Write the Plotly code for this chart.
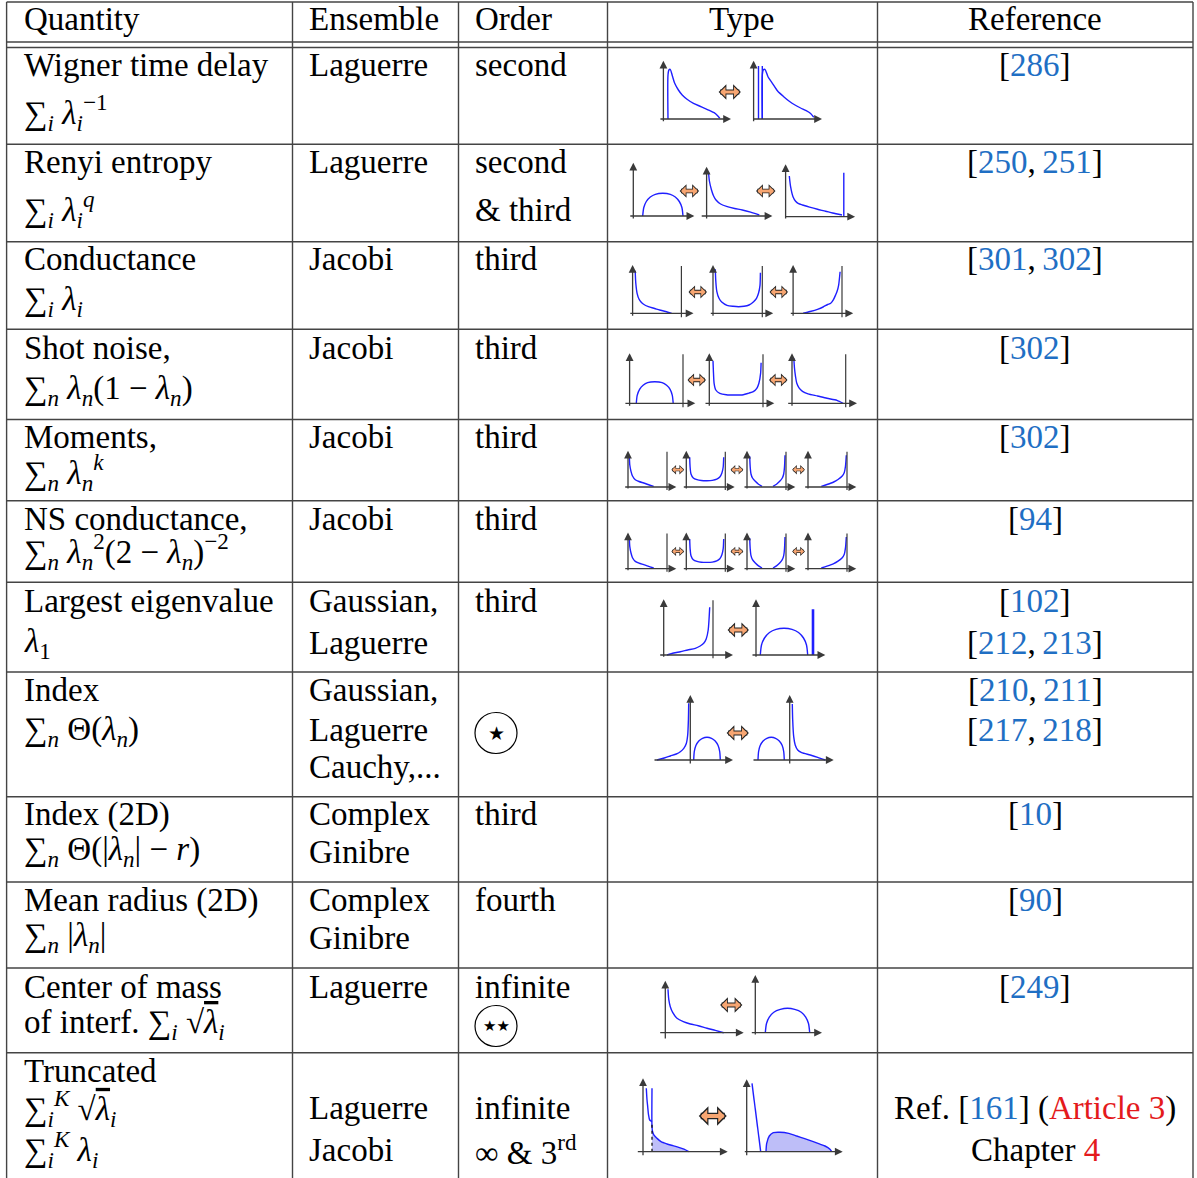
import plotly.graph_objects as go

W, H = 1197, 1178
FONT = "Liberation Serif"
TEXT_SIZE = 33
CITE_BLUE = "#1f6fc4"
LINK_RED = "#e41a1c"
CURVE_BLUE = "#1f1fff"
FILL_BLUE = "rgba(70, 70, 235, 0.35)"
AXIS_COLOR = "#3a3a3a"
GRID_COLOR = "#444444"
ARROW_ORANGE = "#f7a672"
OVER = "<span style='text-decoration:overline'>"

# ---------------------------------------------------------------- table text
HEADERS = ["Quantity", "Ensemble", "Order", "Type", "Reference"]

QUANTITY_LINES = [
    "Wigner time delay",
    "∑<sub><i>i</i></sub> <i>λ</i><sub><i>i</i></sub><sup>−1</sup>",
    "Renyi entropy",
    "∑<sub><i>i</i></sub> <i>λ</i><sub><i>i</i></sub><sup><i>q</i></sup>",
    "Conductance",
    "∑<sub><i>i</i></sub> <i>λ</i><sub><i>i</i></sub>",
    "Shot noise,",
    "∑<sub><i>n</i></sub> <i>λ</i><sub><i>n</i></sub>(1 − <i>λ</i><sub><i>n</i></sub>)",
    "Moments,",
    "∑<sub><i>n</i></sub> <i>λ</i><sub><i>n</i></sub><sup><i>k</i></sup>",
    "NS conductance,",
    "∑<sub><i>n</i></sub> <i>λ</i><sub><i>n</i></sub><sup>2</sup>(2 − <i>λ</i><sub><i>n</i></sub>)<sup>−2</sup>",
    "Largest eigenvalue",
    "<i>λ</i><sub>1</sub>",
    "Index",
    "∑<sub><i>n</i></sub> Θ(<i>λ</i><sub><i>n</i></sub>)",
    "Index (2D)",
    "∑<sub><i>n</i></sub> Θ(|<i>λ</i><sub><i>n</i></sub>| − <i>r</i>)",
    "Mean radius (2D)",
    "∑<sub><i>n</i></sub> |<i>λ</i><sub><i>n</i></sub>|",
    "Center of mass",
    f"of interf. ∑<sub><i>i</i></sub> √{OVER}<i>λ</i></span><sub><i>i</i></sub>",
    "Truncated",
    f"∑<sub><i>i</i></sub><sup><i>K</i></sup> √{OVER}<i>λ</i></span><sub><i>i</i></sub>",
    "∑<sub><i>i</i></sub><sup><i>K</i></sup> <i>λ</i><sub><i>i</i></sub>",
]
QUANTITY_Y = [65, 113, 162, 209, 259, 301, 348, 390, 437, 473, 519, 551,
              601, 643, 690, 731, 814, 851, 900, 937, 987, 1024, 1071, 1108, 1149]

ENSEMBLE_LINES = ["Laguerre", "Laguerre", "Jacobi", "Jacobi", "Jacobi", "Jacobi",
                  "Gaussian,", "Laguerre", "Gaussian,", "Laguerre", "Cauchy,...",
                  "Complex", "Ginibre", "Complex", "Ginibre", "Laguerre",
                  "Laguerre", "Jacobi"]
ENSEMBLE_Y = [65, 162, 259, 348, 437, 519, 601, 643, 690, 730, 767,
              814, 852, 900, 938, 987, 1108, 1150]

ORDER_LINES = ["second", "second", "&amp; third", "third", "third", "third", "third",
               "third", "third", "fourth", "infinite", "infinite",
               "∞ &amp; 3<sup>rd</sup>"]
ORDER_Y = [65, 162, 210, 259, 348, 437, 519, 601, 814, 900, 987, 1108, 1150]

ORDER_MARKS = ["★", "★★"]
ORDER_MARKS_Y = [733, 1026]

REF_CITES = [["286"], ["250", "251"], ["301", "302"], ["302"], ["302"], ["94"],
             ["102"], ["212", "213"], ["210", "211"], ["217", "218"], ["10"],
             ["90"], ["249"]]
REF_Y = [65, 162, 259, 348, 437, 519, 601, 643, 690, 730, 814, 900, 987]
LAST_REF_CITE = "161"
LAST_REF_ARTICLE = "Article 3"
LAST_REF_CHAPTER = "4"

# ------------------------------------------------- mini density sketches
# every sketch uses its own axes, one unit = one pixel, origin at the axes corner
WIG_A_X = [4.6, 4.6, 5.5, 6.8, 9.0, 11.3, 15.0, 18.8, 24.0, 30.1, 36.0, 41.3, 46.0, 50.7, 54.0, 56.4]
WIG_A_Y = [0, 44, 49, 49.7, 43, 35.7, 29, 24, 19.5, 15.7, 13, 10.7, 8.6, 6.3, 3.5, 0.7]
WIG_B_X = [8.7, 8.7, 9.6, 11.3, 14.5, 18.8, 24.0, 30.1, 36.0, 41.4, 47.0, 52.6, 57.0, 60.2]
WIG_B_Y = [0, 44, 49, 49.7, 42, 35.7, 28, 22.3, 17.5, 14, 11, 8.3, 5.5, 1.7]
WIG_B_SPIKE_X = [4.9, 8.7]
WIG_B_SPIKE_H = [53, 53]

REN_A_X = [9.4, 10.5, 13.0, 17.0, 22.0, 29.5, 37.0, 42.0, 46.0, 48.6, 49.7]
REN_A_Y = [0, 8.5, 14.5, 19, 21.7, 22.7, 21.7, 19, 14.5, 8.5, 0]
REN_B_X = [1.9, 2.8, 4.9, 7.0, 9.4, 14.0, 20.7, 28.0, 35.7, 44.0, 52.7]
REN_B_Y = [44.3, 35, 26, 20, 16, 12, 9.3, 7.5, 6, 3.8, 1]
REN_C_X = [3.7, 5.0, 7.4, 10.0, 13.0, 16.9, 24.0, 31.9, 40.0, 47.0, 56.4]
REN_C_Y = [40.7, 30, 20, 15.5, 13, 11.7, 9.5, 7.4, 5.5, 3.7, 1.7]
REN_C_SPIKE_X = [58.2]
REN_C_SPIKE_H = [44]

COND_A_X = [2.6, 3.2, 4.5, 6.5, 8.2, 11.0, 15.8, 22.0, 27.0, 33.0, 39.1]
COND_A_Y = [42.6, 30, 20, 14, 11.6, 9, 6.6, 4.8, 3.3, 1.8, 0]
COND_B_X = [2.3, 2.8, 3.8, 6.0, 8.7, 14.0, 20.0, 25.6, 31.0, 36.0, 40.6, 43.5, 45.5, 47.0, 47.4]
COND_B_Y = [44, 32, 22, 15, 11.3, 8, 7, 6.6, 7, 8.3, 11.6, 15, 20, 28, 40.6]
COND_C_X = [10.1, 17.0, 24.4, 30.0, 34.5, 37.6, 40.5, 42.5, 44.0, 45.5, 47.0]
COND_C_Y = [0, 1.8, 4, 6.3, 8.8, 10, 14, 18.3, 22, 28, 41.6]

SHOT_A_X = [6.7, 7.6, 10.0, 13.5, 18.0, 25.2, 32.5, 37.0, 40.5, 42.7, 43.6]
SHOT_A_Y = [0, 8, 14, 18, 20.7, 21.6, 20.7, 18, 14, 8, 0]
SHOT_B_X = [3.7, 4.2, 4.8, 6.5, 10.5, 17.0, 25.5, 34.0, 39.5, 44.0, 47.5, 49.6, 51.3, 51.8]
SHOT_B_Y = [42.6, 30, 20, 13.3, 10, 8.6, 8.3, 8.6, 10.2, 11.6, 15, 20, 30, 40.6]
SHOT_C_X = [1.8, 2.5, 3.5, 4.8, 7.0, 10.5, 16.0, 25.5, 35.0, 45.0, 51.1]
SHOT_C_Y = [45, 35, 27, 20, 15.5, 12, 9.5, 7.3, 5, 3, 0]

MOM_A_X = [1.3, 1.8, 3.0, 4.5, 7.3, 11.0, 15.7, 20.0, 25.7]
MOM_A_Y = [31.7, 22, 15.7, 11, 7.3, 5.5, 4, 2.5, 0.7]
MOM_B_X = [3.4, 3.8, 4.7, 7.0, 10.7, 15.0, 20.7, 26.0, 30.5, 33.5, 35.6, 36.9, 37.4]
MOM_B_Y = [29.7, 20, 13, 9, 7.3, 6.5, 6.3, 6.6, 7.8, 10, 14, 20, 29.7]
MOM_C_LEFT_X = [2.7, 3.2, 4.0, 5.5, 8.3, 11.5, 15.0]
MOM_C_LEFT_Y = [30.7, 20, 13, 9, 5.7, 2.8, 0.7]
MOM_C_RIGHT_X = [26.0, 29.5, 32.7, 35.3, 36.7, 37.5, 38.0]
MOM_C_RIGHT_Y = [0.7, 2.8, 5.7, 9, 13, 20, 31.7]
MOM_D_X = [13.3, 19.0, 25.7, 30.0, 34.0, 36.3, 37.5, 38.3]
MOM_D_Y = [0.7, 2.5, 5, 7.5, 10.7, 14.5, 21, 31.7]

LARGEST_A_X = [3.3, 10.0, 16.6, 24.0, 31.6, 36.5, 40.0, 42.5, 44.5, 46.0]
LARGEST_A_Y = [0, 2, 3.3, 5, 6.7, 9, 11.7, 16, 25, 47.7]
LARGEST_B_X = [4.3, 5.5, 8.5, 13.5, 20.0, 28.0, 36.0, 42.5, 47.5, 50.5, 51.7]
LARGEST_B_Y = [0, 10, 17, 22.5, 25.6, 26.7, 25.6, 22.5, 17, 10, 0]
LARGEST_B_SPIKE_X = [57.0]
LARGEST_B_SPIKE_H = [45.7]

INDEX_A_TAIL_X = [-33.3, -26.0, -20.0, -14.0, -10.0, -6.5, -4.0, -2.6, -1.9, -1.6]
INDEX_A_TAIL_Y = [0, 2, 4, 6, 8.3, 11.7, 16.5, 25, 40, 56.7]
INDEX_A_DOME_X = [3.4, 4.0, 5.6, 8.5, 12.2, 16.7, 21.2, 24.9, 27.8, 29.4, 30.0]
INDEX_A_DOME_Y = [0, 8.5, 14.5, 19, 21.7, 22.7, 21.7, 19, 14.5, 8.5, 0]
INDEX_B_DOME_X = [-31.7, -31.1, -29.5, -26.6, -22.9, -18.5, -14.1, -10.4, -7.5, -6.0, -5.4]
INDEX_B_DOME_Y = [0, 8.5, 14.5, 19, 21.7, 22.7, 21.7, 19, 14.5, 8.5, 0]
INDEX_B_TAIL_X = [2.6, 3.0, 4.0, 5.5, 8.0, 12.0, 20.6, 28.0, 35.6]
INDEX_B_TAIL_Y = [56, 40, 23.3, 15, 10, 7.3, 5, 2.7, 0]

COM_A_X = [2.7, 3.5, 5.0, 7.5, 11.7, 18.0, 25.0, 33.0, 41.7, 50.0, 58.4]
COM_A_Y = [43.4, 33, 26, 20, 14.4, 11, 8.7, 7, 4.4, 2.3, 0]
COM_B_X = [10.0, 11.2, 14.0, 18.5, 25.0, 32.2, 39.4, 46.0, 50.4, 53.2, 54.4]
COM_B_Y = [0, 9.2, 15.6, 20.5, 23.3, 24.4, 23.3, 20.5, 15.6, 9.2, 0]

TRUNC_A_LEFT_X = [3.3, 4.0, 4.7, 5.5, 6.7, 9.0]
TRUNC_A_LEFT_Y = [63.4, 52, 45, 37, 31.7, 30]
TRUNC_A_RIGHT_X = [9.0, 9.0, 9.6, 11.0, 14.0, 18.0, 24.0, 30.0, 35.7, 41.0, 45.7]
TRUNC_A_RIGHT_Y = [63.4, 25, 20, 16.5, 13.4, 10, 7.7, 6, 4.4, 2.5, 0]
TRUNC_A_CUT_X = [9.0]
TRUNC_A_CUT_H = [30]
TRUNC_B_LINE_X = [5.3, 14.0]
TRUNC_B_LINE_Y = [68.4, 0]
TRUNC_B_HUMP_X = [19.3, 20.0, 22.6, 26.6, 33.3, 42.0, 50.0, 58.0, 66.6, 72.0, 78.3, 83.3, 85.0]
TRUNC_B_HUMP_Y = [0, 8.4, 15.7, 19, 19.4, 18.3, 15.7, 13, 10, 8, 5.7, 2.4, 0]

# sketch placement: axes corner in page pixels, axis extents left/right/below/above
PANELS = [
    dict(origin=(663.4, 119), extent=(4.5, 67.6, 3.7, 58.3), curves=[(WIG_A_X, WIG_A_Y)]),
    dict(origin=(753.6, 119), extent=(2, 68.4, 3.7, 58.3), curves=[(WIG_B_X, WIG_B_Y)],
         spikes=(WIG_B_SPIKE_X, WIG_B_SPIKE_H)),
    dict(origin=(633.3, 216), extent=(4.5, 61, 4, 53.3), curves=[(REN_A_X, REN_A_Y)]),
    dict(origin=(706.6, 216), extent=(6.4, 65.8, 4, 49.3), curves=[(REN_B_X, REN_B_Y)]),
    dict(origin=(785.6, 216.7), extent=(2, 69.5, 3.3, 52.4), curves=[(REN_C_X, REN_C_Y)],
         spikes=(REN_C_SPIKE_X, REN_C_SPIKE_H)),
    dict(origin=(632.6, 313.3), extent=(3.8, 60.9, 4, 48.3), walls=[48.8], curves=[(COND_A_X, COND_A_Y)]),
    dict(origin=(713, 313.3), extent=(3.7, 60.2, 4, 48.3), walls=[49.3], curves=[(COND_B_X, COND_B_Y)]),
    dict(origin=(793.1, 313.3), extent=(3.8, 60.1, 4, 48.3), walls=[48.9], curves=[(COND_C_X, COND_C_Y)]),
    dict(origin=(629.6, 403.3), extent=(5.7, 65.7, 4, 50), walls=[53.4], curves=[(SHOT_A_X, SHOT_A_Y)]),
    dict(origin=(709.3, 403.3), extent=(5.3, 65, 4, 50), walls=[53.7], curves=[(SHOT_B_X, SHOT_B_Y)]),
    dict(origin=(792, 403.3), extent=(5.3, 65, 4, 50), walls=[53.7], curves=[(SHOT_C_X, SHOT_C_Y)]),
]
for row_y in (487, 568.7):
    PANELS += [
        dict(origin=(628, row_y), extent=(4.3, 48.3, 3, 36.3), walls=[39], curves=[(MOM_A_X, MOM_A_Y)]),
        dict(origin=(686.3, row_y), extent=(4, 48.4, 3, 36.3), walls=[39], curves=[(MOM_B_X, MOM_B_Y)]),
        dict(origin=(747, row_y), extent=(4, 48.3, 3, 36.3), walls=[39],
             curves=[(MOM_C_LEFT_X, MOM_C_LEFT_Y), (MOM_C_RIGHT_X, MOM_C_RIGHT_Y)]),
        dict(origin=(808, row_y), extent=(4.3, 48.3, 3, 36.3), walls=[39], curves=[(MOM_D_X, MOM_D_Y)]),
    ]
PANELS += [
    dict(origin=(663.7, 655), extent=(5, 69.3, 3.3, 55.7), walls=[49.3], curves=[(LARGEST_A_X, LARGEST_A_Y)]),
    dict(origin=(756, 655), extent=(5, 69.3, 3.3, 55.7), curves=[(LARGEST_B_X, LARGEST_B_Y)],
         spikes=(LARGEST_B_SPIKE_X, LARGEST_B_SPIKE_H), spike_width=2.6),
    dict(origin=(690.3, 760), extent=(37.3, 42.7, 5, 65),
         curves=[(INDEX_A_TAIL_X, INDEX_A_TAIL_Y), (INDEX_A_DOME_X, INDEX_A_DOME_Y)]),
    dict(origin=(789.7, 760), extent=(37.7, 44, 5, 65),
         curves=[(INDEX_B_DOME_X, INDEX_B_DOME_Y), (INDEX_B_TAIL_X, INDEX_B_TAIL_Y)]),
    dict(origin=(665.3, 1032.7), extent=(6.6, 78.4, 7.3, 52), curves=[(COM_A_X, COM_A_Y)]),
    dict(origin=(755.3, 1032.7), extent=(5, 66.7, 3.3, 57.7), curves=[(COM_B_X, COM_B_Y)]),
    dict(origin=(643, 1151.7), extent=(6.7, 84.7, 5, 73.4), curves=[(TRUNC_A_LEFT_X, TRUNC_A_LEFT_Y)],
         fills=[(TRUNC_A_RIGHT_X, TRUNC_A_RIGHT_Y)], cuts=(TRUNC_A_CUT_X, TRUNC_A_CUT_H)),
    dict(origin=(746.7, 1151.7), extent=(3.4, 96, 5, 72.4), curves=[(TRUNC_B_LINE_X, TRUNC_B_LINE_Y)],
         fills=[(TRUNC_B_HUMP_X, TRUNC_B_HUMP_Y)]),
]

# orange "<=>" between sketches: centre x, centre y, length (pixels)
SWAP_ARROWS = [
    (729, 92, 25), (688.6, 191, 22), (765, 191, 22),
    (697, 292, 21), (778, 292, 21), (696, 380, 21), (777.5, 380, 21),
    (677, 469.7, 15), (736.2, 469.7, 15), (797.8, 469.7, 15),
    (677, 551.4, 15), (736.2, 551.4, 15), (797.8, 551.4, 15),
    (737.5, 630, 24), (737, 733, 25), (730.5, 1005, 25), (712, 1116, 31),
]

COL_X = [6.6, 292.5, 458.5, 607.5, 877.5, 1193]
ROW_LINES_Y = [2, 42, 47.5, 144.3, 241.7, 329.3, 419.5, 500.7, 582.3, 672, 796.7, 882, 968, 1052.7]


def px(x):
    return x / W


def py(y):
    return 1 - y / H


def blue(s):
    return f"<span style='color:{CITE_BLUE}'>{s}</span>"


def red(s):
    return f"<span style='color:{LINK_RED}'>{s}</span>"


fig = go.Figure()
annotations = []
shapes = []


def add_text(x, y, text, xanchor="left", size=TEXT_SIZE, family=FONT):
    annotations.append(dict(
        x=px(x), y=py(y), xref="paper", yref="paper", text=text, showarrow=False,
        xanchor=xanchor, yanchor="middle", font=dict(family=family, size=size, color="black"),
    ))


# ---- table rules
for x in COL_X:
    shapes.append(dict(type="line", xref="paper", yref="paper", x0=px(x), x1=px(x),
                       y0=py(ROW_LINES_Y[0]), y1=0, line=dict(color=GRID_COLOR, width=1.4)))
for y in ROW_LINES_Y:
    shapes.append(dict(type="line", xref="paper", yref="paper", x0=px(COL_X[0]), x1=px(COL_X[-1]),
                       y0=py(y), y1=py(y), line=dict(color=GRID_COLOR, width=1.5)))

# ---- header and text columns
add_text(22, 19, HEADERS[0])
add_text(307, 19, HEADERS[1])
add_text(473, 19, HEADERS[2])
add_text(742, 19, HEADERS[3], xanchor="center")
add_text(1035, 19, HEADERS[4], xanchor="center")

for text, y in zip(QUANTITY_LINES, QUANTITY_Y):
    add_text(22, y, text)
for text, y in zip(ENSEMBLE_LINES, ENSEMBLE_Y):
    add_text(307, y, text)
for text, y in zip(ORDER_LINES, ORDER_Y):
    add_text(473, y, text)

for mark, y in zip(ORDER_MARKS, ORDER_MARKS_Y):
    shapes.append(dict(type="circle", xref="paper", yref="paper",
                       x0=px(496 - 21), x1=px(496 + 21), y0=py(y + 20.5), y1=py(y - 20.5),
                       line=dict(color="black", width=1.2)))
    add_text(496, y, mark, xanchor="center", size=19 if len(mark) == 1 else 15, family="DejaVu Sans")

for cites, y in zip(REF_CITES, REF_Y):
    add_text(1035, y, "[" + ",\u2009".join(blue(c) for c in cites) + "]", xanchor="center")
add_text(1035, 1108, f"Ref. [{blue(LAST_REF_CITE)}] ({red(LAST_REF_ARTICLE)})", xanchor="center")
add_text(1035, 1150, f"Chapter {red(LAST_REF_CHAPTER)}", xanchor="center")

# ---- sketches
axes_layout = {}
PAD = 4
for n, p in enumerate(PANELS, start=1):
    ox, oy = p["origin"]
    xl, xr, yb, yt = p["extent"]
    xid = "x" if n == 1 else f"x{n}"
    yid = "y" if n == 1 else f"y{n}"
    axes_layout["xaxis" if n == 1 else f"xaxis{n}"] = dict(
        domain=[px(ox - xl - PAD), px(ox + xr + PAD)], range=[-xl - PAD, xr + PAD],
        visible=False, fixedrange=True, anchor=yid)
    axes_layout["yaxis" if n == 1 else f"yaxis{n}"] = dict(
        domain=[py(oy + yb + PAD), py(oy - yt - PAD)], range=[-yb - PAD, yt + PAD],
        visible=False, fixedrange=True, anchor=xid)

    for xs, ys in p.get("fills", []):
        fig.add_trace(go.Scatter(x=xs, y=ys, mode="lines", fill="tozeroy", fillcolor=FILL_BLUE,
                                 line=dict(color=CURVE_BLUE, width=1.4, shape="spline", smoothing=0.7),
                                 xaxis=xid, yaxis=yid, hoverinfo="skip", showlegend=False))
    for xs, ys in p.get("curves", []):
        fig.add_trace(go.Scatter(x=xs, y=ys, mode="lines",
                                 line=dict(color=CURVE_BLUE, width=1.4, shape="spline", smoothing=0.7),
                                 xaxis=xid, yaxis=yid, hoverinfo="skip", showlegend=False))
    if "spikes" in p:
        for sx, sh in zip(*p["spikes"]):
            fig.add_trace(go.Scatter(x=[sx, sx], y=[0, sh], mode="lines",
                                     line=dict(color=CURVE_BLUE, width=p.get("spike_width", 1.4)),
                                     xaxis=xid, yaxis=yid, hoverinfo="skip", showlegend=False))
    if "cuts" in p:
        for cx, ch in zip(*p["cuts"]):
            shapes.append(dict(type="line", xref=xid, yref=yid, x0=cx, x1=cx, y0=0, y1=ch,
                               line=dict(color="black", width=1.2, dash="dot")))
    for wx in p.get("walls", []):
        shapes.append(dict(type="line", xref=xid, yref=yid, x0=wx, x1=wx, y0=-yb, y1=yt - 1,
                           line=dict(color=AXIS_COLOR, width=1.2)))

    # axes drawn as arrows
    annotations.append(dict(x=xr, y=0, ax=-xl, ay=0, xref=xid, yref=yid, axref=xid, ayref=yid,
                            text="", showarrow=True, arrowhead=2, arrowsize=1.2, arrowwidth=1.3,
                            arrowcolor=AXIS_COLOR))
    annotations.append(dict(x=0, y=yt, ax=0, ay=-yb, xref=xid, yref=yid, axref=xid, ayref=yid,
                            text="", showarrow=True, arrowhead=2, arrowsize=1.2, arrowwidth=1.3,
                            arrowcolor=AXIS_COLOR))

# ---- orange double arrows (black one underneath acts as the outline)
for cx, cy, length in SWAP_ARROWS:
    k = length / 25
    annotations.append(dict(x=px(cx + length / 2 - 0.6 * k), y=py(cy), xref="paper", yref="paper",
                            ax=-(length - 1.2 * k), ay=0, text="", showarrow=True, arrowside="end+start",
                            arrowhead=1, startarrowhead=1, arrowsize=0.5, startarrowsize=0.5,
                            arrowwidth=5.2 * k, arrowcolor="#222222"))
    annotations.append(dict(x=px(cx + length / 2 - 2.2 * k), y=py(cy), xref="paper", yref="paper",
                            ax=-(length - 4.4 * k), ay=0, text="", showarrow=True, arrowside="end+start",
                            arrowhead=1, startarrowhead=1, arrowsize=0.55, startarrowsize=0.55,
                            arrowwidth=3.2 * k, arrowcolor=ARROW_ORANGE))

fig.update_layout(
    width=W, height=H, autosize=False,
    margin=dict(l=0, r=0, t=0, b=0),
    paper_bgcolor="white", plot_bgcolor="rgba(0,0,0,0)",
    showlegend=False, hovermode=False,
    annotations=annotations, shapes=shapes,
    **axes_layout,
)

fig.write_html("out.html", config={"displayModeBar": False},
               post_script="document.body.style.margin='0px';")
